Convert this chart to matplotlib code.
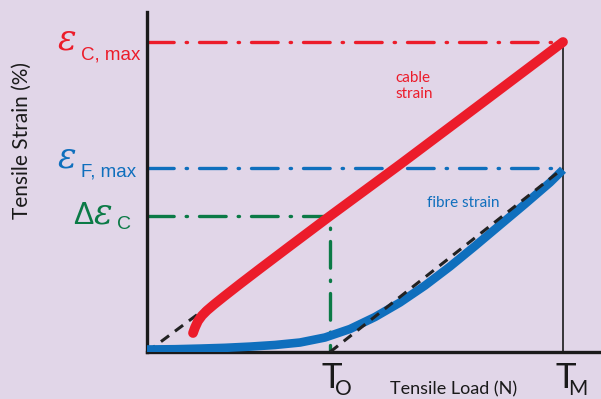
import numpy as np
import matplotlib
matplotlib.use("Agg")
import matplotlib.pyplot as plt

# Load as fraction of T_M, strain as fraction of eps_C,max
cable_load = [0.1106, 0.1154, 0.1226, 0.1322, 0.1442, 0.1611, 0.1851,
              0.2236, 0.2716, 0.3438, 0.4399, 0.6082, 0.8005, 1.0]
cable_strain = [0.0613, 0.0790, 0.1000, 0.1177, 0.1339, 0.1532, 0.1790,
                0.2194, 0.2687, 0.3419, 0.4387, 0.6048, 0.7984, 1.0]

fibre_load = [0.0, 0.0673, 0.1274, 0.1875, 0.2476, 0.3077, 0.3678, 0.4279,
              0.4880, 0.5481, 0.6082, 0.6683, 0.7284, 0.7885, 0.8486,
              0.9087, 0.9688, 1.0]
fibre_strain = [0.0081, 0.0090, 0.0110, 0.0135, 0.0174, 0.0226, 0.0306,
                0.0468, 0.0742, 0.1129, 0.1597, 0.2145, 0.2758, 0.3419,
                0.4097, 0.4774, 0.5468, 0.5880]

# dashed reference lines
cable_ref_load = [0.0, 0.44]
cable_ref_strain = [0.0, 0.439]
fibre_ref_load = [0.44, 1.0]
fibre_ref_strain = [0.0, 0.592]

t_o = 0.44
t_m = 1.0
eps_c_max = 1.0
eps_f_max = 0.594
d_eps_c = 0.439

BG = "#e1d6e8"
RED = "#ec1c2a"
BLUE = "#0f6fbd"
GREEN = "#0b7a46"
INK = "#1a1a1a"

W, H = 601, 399
fig = plt.figure(figsize=(W / 100, H / 100), dpi=100, facecolor=BG)


def px(x, y):
    # figure fraction from pixel position (top-left origin)
    return x / W, 1 - y / H


ax = fig.add_axes([147 / W, 47 / H, 454 / W, 340 / H])
ax.set_facecolor(BG)
ax.set_xlim(0, 454 / 416)
ax.set_ylim(0, 340 / 310)
for s in ["top", "right"]:
    ax.spines[s].set_visible(False)
for s in ["left", "bottom"]:
    ax.spines[s].set_linewidth(2.4)
    ax.spines[s].set_color(INK)
ax.set_xticks([])
ax.set_yticks([])

dashdot = (8, 3.6, 0.4, 3.6)
ax.plot([0, t_m], [eps_c_max, eps_c_max], color=RED, lw=2.4,
        dashes=dashdot, dash_capstyle="round", zorder=2)
ax.plot([0, t_m], [eps_f_max, eps_f_max], color=BLUE, lw=2.4,
        dashes=dashdot, dash_capstyle="round", zorder=2)
ax.plot([0, t_o, t_o], [d_eps_c, d_eps_c, 0], color=GREEN, lw=2.4,
        dashes=dashdot, dash_capstyle="round", zorder=2)
ax.plot([t_m, t_m], [0, eps_c_max], color=INK, lw=1.2, zorder=2)

ax.plot(cable_ref_load, cable_ref_strain, color="#222222", lw=2.2,
        dashes=(3.3, 2.4), zorder=3)
ax.plot(cable_load, cable_strain, color=RED, lw=7,
        solid_capstyle="round", solid_joinstyle="round", zorder=4)
ax.plot(fibre_load, fibre_strain, color=BLUE, lw=6.2,
        solid_capstyle="butt", solid_joinstyle="round", zorder=4)
ax.plot(fibre_ref_load, fibre_ref_strain, color="#222222", lw=2.2,
        dashes=(3.3, 2.4), zorder=5)

sans = "Lato"
arial = "Liberation Sans"
serif = "DejaVu Serif"

# left epsilon labels
fig.text(*px(58, 50), "\u03b5", color=RED, fontsize=25, family=serif,
         style="italic", ha="left", va="baseline")
fig.text(*px(81, 59), "C, max", color=RED, fontsize=13.5, family=arial,
         ha="left", va="baseline")
fig.text(*px(58, 168), "\u03b5", color=BLUE, fontsize=25, family=serif,
         style="italic", ha="left", va="baseline")
fig.text(*px(81, 177), "F, max", color=BLUE, fontsize=13.5, family=arial,
         ha="left", va="baseline")
fig.text(*px(73, 224), "\u0394", color=GREEN, fontsize=22, family=arial,
         ha="left", va="baseline")
fig.text(*px(94, 224), "\u03b5", color=GREEN, fontsize=25, family=serif,
         style="italic", ha="left", va="baseline")
fig.text(*px(117, 229), "C", color=GREEN, fontsize=14, family=arial,
         ha="left", va="baseline")

fig.text(*px(22, 141), "Tensile Strain (%)", color=INK, fontsize=15,
         family=sans, rotation=90, ha="center", va="center")

# x labels
fig.text(*px(322, 388), "T", fontsize=25, family=sans, color=INK,
         ha="left", va="baseline")
fig.text(*px(335, 395), "O", fontsize=15, family=sans, color=INK,
         ha="left", va="baseline")
fig.text(*px(555, 388), "T", fontsize=25, family=sans, color=INK,
         ha="left", va="baseline")
fig.text(*px(568, 395), "M", fontsize=15, family=sans, color=INK,
         ha="left", va="baseline")
fig.text(*px(390, 394), "Tensile Load (N)", fontsize=13, family=sans,
         color=INK, ha="left", va="baseline")

fig.text(*px(395, 98), "cable\nstrain", fontsize=11, family=sans, color=RED,
         ha="left", va="baseline", linespacing=1.2)
fig.text(*px(427, 207), "fibre strain", fontsize=11, family=sans, color=BLUE,
         ha="left", va="baseline")

fig.savefig("out.png", dpi=100, facecolor=BG)
